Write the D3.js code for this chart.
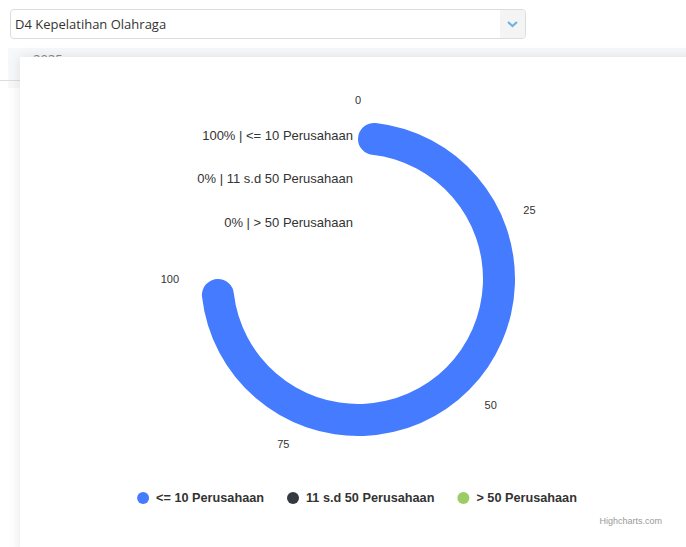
<!DOCTYPE html>
<html>
<head>
<meta charset="utf-8">
<script src="https://cdn.jsdelivr.net/npm/d3@7"></script>
<style>
  html, body { margin: 0; padding: 0; background: #fff; width: 686px; height: 547px; overflow: hidden; }
  body { position: relative; font-family: "Open Sans", sans-serif; }
  .select {
    position: absolute; left: 10px; top: 9px; width: 514px; height: 28px;
    border: 1px solid #dcdcdc; border-radius: 4px; background: #fff; overflow: hidden;
  }
  .select .txt { position: absolute; left: 4px; top: 5px; font-size: 13px; color: #333; }
  .select .btn { position: absolute; right: 0; top: 0; width: 25px; height: 28px; background: #f4f4f4; }
  .behind { position: absolute; left: 8px; top: 48px; right: 0; height: 40px; background: #f7f8fa; }
  .behind .yr { position: absolute; left: 25px; top: 2px; font-size: 13px; color: #888; }
  .behind .line { position: absolute; left: -8px; top: 32px; width: 20px; height: 1px; background: #ddd; }
  .card {
    position: absolute; left: 20px; top: 57px; width: 680px; height: 500px; background: #fff;
    box-shadow: 0 0 12px rgba(0,0,0,0.10);
  }
  svg#chart { position: absolute; left: 0; top: 0; }
</style>
</head>
<body>
<div class="select">
  <div class="txt">D4 Kepelatihan Olahraga</div>
  <div class="btn"><svg width="25" height="28"><path d="M8,12 L12.5,16 L17,12" fill="none" stroke="#6db3e8" stroke-width="2.2"/></svg></div>
</div>
<div class="behind"><div class="yr">2025</div><div class="line"></div></div>
<div class="card"></div>
<svg id="chart" width="686" height="547"></svg>
<script>
// data
const categories = ["<= 10 Perusahaan", "11 s.d 50 Perusahaan", "> 50 Perusahaan"];
const values = [100, 0, 0];
const colors = ["#447bff", "#343a40", "#9ccc65"];
const tickValues = [0, 25, 50, 75, 100];

const cx = 358, cy = 279;
const ringOuter = [157, 114, 70];
const ringInner = [125, 82, 38];

const svg = d3.select("#chart");
const font = "Arial, 'Liberation Sans', sans-serif";

const angle = d3.scaleLinear().domain([0, 100]).range([0, 1.5 * Math.PI]);

const g = svg.append("g").attr("transform", `translate(${cx},${cy})`);

// rings
g.selectAll(".ring")
  .data(values)
  .enter().append("path")
  .attr("class", "ring")
  .attr("fill", (d, i) => colors[i])
  .attr("d", (d, i) => d3.arc()
    .innerRadius(ringInner[i])
    .outerRadius(ringOuter[i])
    .cornerRadius((ringOuter[i] - ringInner[i]) / 2)
    .startAngle(0)
    .endAngle(angle(d))());

// axis labels
const labR = 179;
g.selectAll(".tick")
  .data(tickValues)
  .enter().append("text")
  .attr("class", "tick")
  .attr("x", d => labR * Math.sin(angle(d)))
  .attr("y", d => -labR * Math.cos(angle(d)))
  .attr("dy", "0.35em")
  .attr("text-anchor", d => {
    const s = Math.sin(angle(d));
    return s > 0.01 ? "start" : (s < -0.01 ? "end" : "middle");
  })
  .attr("font-family", font)
  .attr("font-size", "11px")
  .attr("fill", "#333")
  .text(d => d);

// value labels next to the rings
g.selectAll(".vlabel")
  .data(values)
  .enter().append("text")
  .attr("class", "vlabel")
  .attr("x", -5)
  .attr("y", (d, i) => -(ringOuter[i] + ringInner[i]) / 2 + 1.5)
  .attr("text-anchor", "end")
  .attr("font-family", font)
  .attr("font-size", "13px")
  .attr("fill", "#333")
  .text((d, i) => `${d}% | ${categories[i]}`);

// legend
const legend = svg.append("g").attr("transform", "translate(0,498)");
const items = legend.selectAll(".item")
  .data(categories)
  .enter().append("g")
  .attr("class", "item");
items.append("circle").attr("r", 6).attr("fill", (d, i) => colors[i]);
items.append("text")
  .attr("x", 13)
  .attr("dy", "0.35em")
  .attr("font-family", font)
  .attr("font-size", "12.7px")
  .attr("font-weight", "bold")
  .attr("fill", "#333")
  .text(d => d);

let x = 0;
const pos = [];
items.each(function(d, i) {
  const w = d3.select(this).select("text").node().getComputedTextLength();
  pos.push(x);
  x += 13 + w + 29;
});
const total = x - 29 + 6;
const start = 357 - total / 2 + 6;
items.attr("transform", (d, i) => `translate(${start + pos[i]},0)`);

// credits
svg.append("text")
  .attr("x", 662)
  .attr("y", 524)
  .attr("text-anchor", "end")
  .attr("font-family", font)
  .attr("font-size", "9px")
  .attr("fill", "#999")
  .text("Highcharts.com");
</script>
</body>
</html>
